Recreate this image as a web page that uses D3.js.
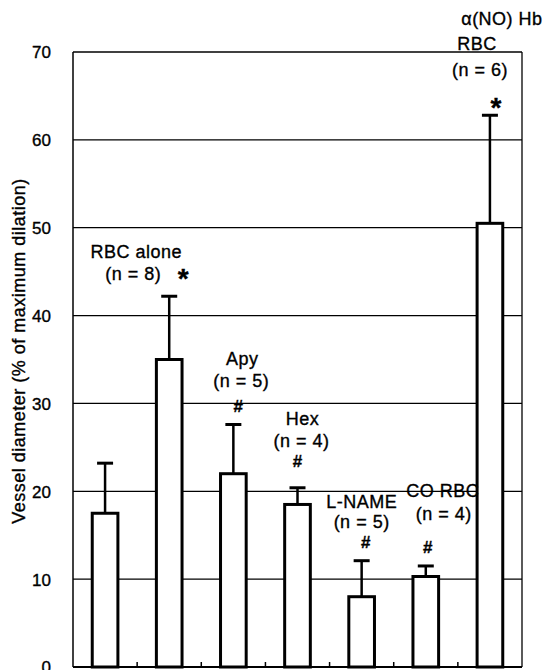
<!DOCTYPE html>
<html lang="en">
<head>
  <meta charset="UTF-8">
  <title>vessel diameter</title>
  <script src="https://cdn.jsdelivr.net/npm/d3@7"></script>
  <style>
    body { margin: 0; background: #fff; }
    text { font-family: "Liberation Sans", Arial, sans-serif; fill: #000; stroke: #000; stroke-width: 0.35px; }
  </style>
</head>
<body>
  <svg id="chart"></svg>
<script>
  // data
  const groups = ['control', 'RBC alone', 'Apy', 'Hex', 'L-NAME', 'CO RBC', 'α(NO) Hb RBC'];
  const means = [17.5, 35.0, 22.0, 18.5, 8.0, 10.3, 50.5];
  const sems = [5.7, 7.2, 5.6, 1.9, 4.1, 1.2, 12.3];
  const yTicks = [0, 10, 20, 30, 40, 50, 60, 70];

  // annotation text per bar (marks: * vs control, # vs RBC alone)
  const labelLines = [
    [],
    ['RBC alone', '(n = 8)'],
    ['Apy', '(n = 5)'],
    ['Hex', '(n = 4)'],
    ['L-NAME', '(n = 5)'],
    ['CO RBC', '(n = 4)'],
    ['α(NO) Hb', 'RBC', '(n = 6)']
  ];
  const marks = ['', '*', '#', '#', '#', '#', '*'];

  // where the labels sit: dx from bar centre, baseline y of each line (px)
  const labelLayout = [
    null,
    { dx: [-33, -36], y: [258, 280], mdx: 14, my: 288 },
    { dx: [9, 8], y: [365, 387], mdx: 5, my: 412 },
    { dx: [5, 4], y: [425, 447], mdx: 0, my: 467 },
    { dx: [0, 0], y: [508, 528], mdx: 4, my: 548 },
    { dx: [17, 18], y: [497, 520], mdx: 2, my: 553 },
    { dx: [12, -13, -10], y: [25, 50, 76], mdx: 6, my: 117 }
  ];

  const width = 546, height = 670;
  const mLeft = 73, mRight = 522, mTop = 52, mBottom = 667;

  const svg = d3.select('#chart')
    .attr('width', width)
    .attr('height', height);

  const x = d3.scaleBand()
    .domain(groups)
    .range([mLeft, mRight]);

  const y = d3.scaleLinear()
    .domain([0, 70])
    .range([mBottom, mTop]);

  const barW = x.bandwidth() * 0.4;

  // horizontal grid
  svg.append('g')
    .selectAll('line')
    .data(yTicks.filter(d => d > 0))
    .join('line')
    .attr('x1', mLeft)
    .attr('x2', mRight)
    .attr('y1', d => y(d))
    .attr('y2', d => y(d))
    .attr('stroke', '#000')
    .attr('stroke-width', 1.3);

  // frame: left axis, right border
  svg.append('line')
    .attr('x1', mLeft).attr('x2', mLeft)
    .attr('y1', mTop).attr('y2', mBottom)
    .attr('stroke', '#000').attr('stroke-width', 1.5);
  svg.append('line')
    .attr('x1', mRight).attr('x2', mRight)
    .attr('y1', mTop).attr('y2', mBottom)
    .attr('stroke', '#000').attr('stroke-width', 1.3);

  // y tick labels
  const yAxis = svg.append('g')
    .attr('transform', `translate(${mLeft},0)`)
    .call(d3.axisLeft(y).tickValues(yTicks).tickSize(0).tickPadding(22));
  yAxis.select('.domain').remove();
  yAxis.selectAll('text')
    .attr('font-family', '"Liberation Sans Narrow", "Liberation Sans", Arial, sans-serif')
    .attr('font-size', 17)
    .attr('dy', '0.35em');

  // bottom axis with small inward ticks at group boundaries
  const boundaries = groups.slice(1).map(g => x(g));
  svg.append('line')
    .attr('x1', mLeft).attr('x2', mRight)
    .attr('y1', mBottom).attr('y2', mBottom)
    .attr('stroke', '#000').attr('stroke-width', 2);
  svg.append('g')
    .selectAll('line')
    .data(boundaries)
    .join('line')
    .attr('x1', d => d).attr('x2', d => d)
    .attr('y1', mBottom).attr('y2', mBottom - 5)
    .attr('stroke', '#000').attr('stroke-width', 1.5);

  const cx = g => x(g) + x.bandwidth() / 2;

  // error bars (upper only)
  const err = svg.append('g');
  err.selectAll('line.stem')
    .data(groups)
    .join('line')
    .attr('class', 'stem')
    .attr('x1', d => cx(d)).attr('x2', d => cx(d))
    .attr('y1', (d, i) => y(means[i]))
    .attr('y2', (d, i) => y(means[i] + sems[i]))
    .attr('stroke', '#000').attr('stroke-width', 2.5);
  err.selectAll('line.cap')
    .data(groups)
    .join('line')
    .attr('class', 'cap')
    .attr('x1', d => cx(d) - 8).attr('x2', d => cx(d) + 8)
    .attr('y1', (d, i) => y(means[i] + sems[i]))
    .attr('y2', (d, i) => y(means[i] + sems[i]))
    .attr('stroke', '#000').attr('stroke-width', 3);

  // bars
  svg.append('g')
    .selectAll('rect')
    .data(groups)
    .join('rect')
    .attr('x', d => cx(d) - barW / 2)
    .attr('width', barW)
    .attr('y', (d, i) => y(means[i]))
    .attr('height', (d, i) => y(0) - y(means[i]))
    .attr('fill', '#fff')
    .attr('stroke', '#000')
    .attr('stroke-width', 3);

  // group labels
  const ann = svg.append('g')
    .attr('font-size', 18)
    .attr('letter-spacing', 0.5)
    .attr('text-anchor', 'middle');

  groups.forEach((g, i) => {
    const lay = labelLayout[i];
    if (!lay) return;
    labelLines[i].forEach((t, k) => {
      ann.append('text')
        .attr('x', cx(g) + lay.dx[k])
        .attr('y', lay.y[k])
        .text(t);
    });
    const m = marks[i];
    ann.append('text')
      .attr('x', cx(g) + lay.mdx)
      .attr('y', lay.my)
      .attr('font-size', m === '*' ? 28 : 17)
      .attr('font-weight', 'bold')
      .attr('letter-spacing', 0)
      .text(m);
  });

  // y axis title
  svg.append('text')
    .attr('transform', 'translate(25,351) rotate(-90)')
    .attr('text-anchor', 'middle')
    .attr('font-size', 18)
    .attr('letter-spacing', 0.5)
    .text('Vessel diameter (% of maximum dilation)');
</script>
</body>
</html>
